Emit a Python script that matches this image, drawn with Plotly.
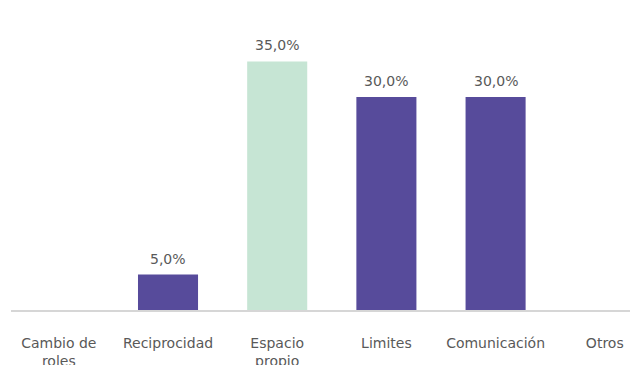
import plotly.graph_objects as go

categories = ["Cambio de<br>roles", "Reciprocidad", "Espacio<br>propio", "Limites", "Comunicación", "Otros"]
values = [0, 5.0, 35.0, 30.0, 30.0, 0]
bar_colors = ["#574B9B", "#574B9B", "#C6E5D4", "#574B9B", "#574B9B", "#574B9B"]

label_font = dict(family="DejaVu Sans", size=14, color="#595959")


def pct(v):
    return f"{v:.1f}%".replace(".", ",")


fig = go.Figure(
    go.Bar(
        x=categories,
        y=values,
        marker=dict(color=bar_colors, line=dict(width=0)),
        width=0.55,
        hoverinfo="skip",
    )
)

# value labels above each non-empty bar
for cat, v in zip(categories, values):
    if v > 0:
        fig.add_annotation(
            x=cat, y=v, text=pct(v), showarrow=False,
            yanchor="bottom", yshift=6, font=label_font,
        )

fig.update_layout(
    width=630,
    height=365,
    margin=dict(l=11, r=0, t=0, b=55),
    paper_bgcolor="white",
    plot_bgcolor="white",
    showlegend=False,
    xaxis=dict(
        type="category",
        range=[-0.438, 5.231],
        automargin=False,
        showgrid=False,
        zeroline=False,
        showline=True,
        linecolor="#d6d6d6",
        linewidth=1.5,
        ticks="",
        ticklabelstandoff=19,
        tickfont=label_font,
    ),
    yaxis=dict(
        range=[0, 43.66],
        visible=False,
        automargin=False,
        showgrid=False,
        zeroline=False,
    ),
)

fig.write_html("out.html")
